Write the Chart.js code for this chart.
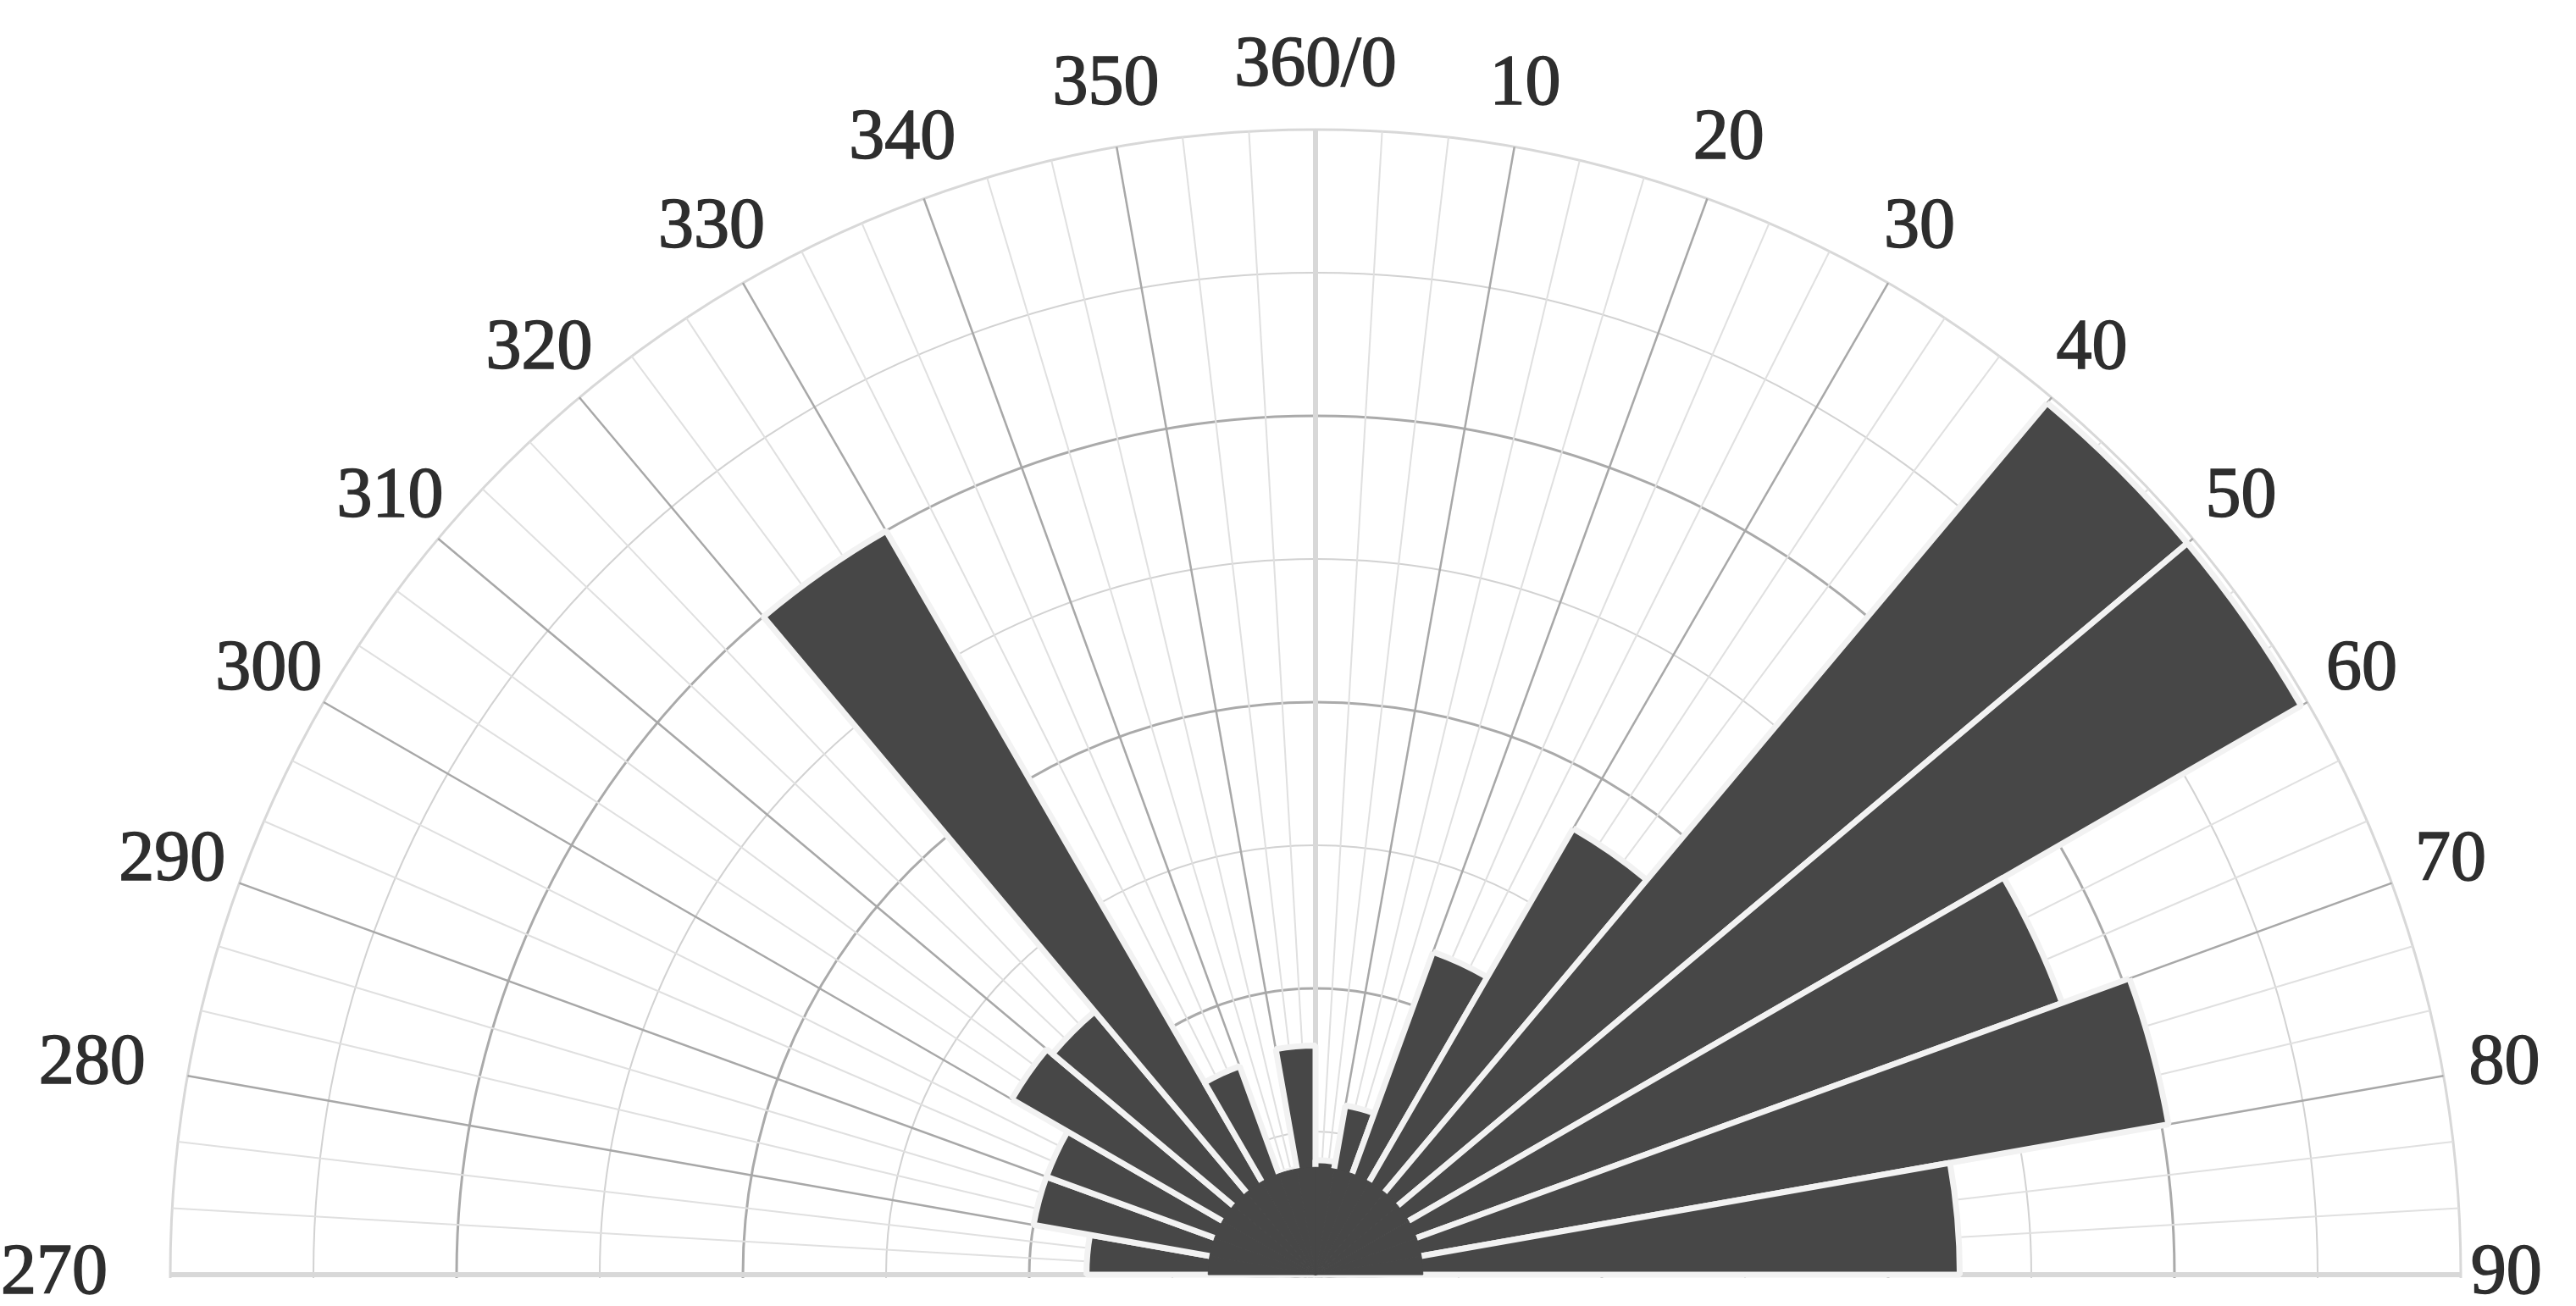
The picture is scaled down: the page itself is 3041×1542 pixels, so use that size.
<!DOCTYPE html>
<html lang="en">
<head>
    <meta charset="UTF-8">
    <title>Rose diagram 270-90</title>
    <script src="https://cdn.jsdelivr.net/npm/chart.js"></script>
    <style>
        html, body { margin: 0; padding: 0; background: #fff; }
        #frame { width: 3041px; height: 1542px; overflow: hidden; position: relative; }
        #holder { width: 3041px; height: 3010px; position: absolute; left: 0; top: 0; }
    </style>
</head>
<body>
<div id="frame"><div id="holder"><canvas id="roseChart"></canvas></div></div>

<script>
    // direction labels, clockwise from west (270)
    const directionLabels = ['270', '280', '290', '300', '310', '320', '330', '340', '350', '360/0',
        '10', '20', '30', '40', '50', '60', '70', '80', '90', '100', '110', '120', '130', '140',
        '150', '160', '170', '180', '190', '200', '210', '220', '230', '240', '250', '260'];

    // bar lengths of the 10 degree bins 270-280 ... 80-90
    const binCounts = [3.2, 4.0, 4.0, 4.9, 4.8, 12.0, 3.1, 1.5, 3.2,
        1.6, 2.4, 4.8, 7.2, 15.9, 15.9, 11.1, 12.1, 9.0];

    const ringStep = 2;
    const ringMax = 16;

    // three grid spokes per 10 degrees, only the first one carries a label
    const spokeLabels = [];
    directionLabels.forEach(l => spokeLabels.push(l, '', ''));

    // solid hub under the bars (smallest bin)
    const hub = binCounts.map(() => Math.min(...binCounts));

    // upper half only, then the direction labels centred on their spokes
    const halfRose = {
        id: 'halfRose',
        beforeDraw(chart) {
            const r = chart.scales.r;
            const ctx = chart.ctx;
            ctx.save();
            ctx.beginPath();
            ctx.rect(0, 0, chart.width, r.yCenter + 4);
            ctx.clip();
        },
        afterDraw(chart) {
            const r = chart.scales.r;
            const ctx = chart.ctx;
            ctx.restore();
            ctx.save();
            ctx.font = "84px 'Liberation Serif', serif";
            ctx.fillStyle = '#2e2e2e';
            ctx.strokeStyle = '#2e2e2e';
            ctx.lineWidth = 1.6;
            ctx.textAlign = 'center';
            ctx.textBaseline = 'middle';
            directionLabels.forEach((text, k) => {
                const i = k * 3;
                const p = r.getPointPosition(i, r.drawingArea + 74);
                const s = Math.sin(r.getIndexAngle(i));
                const w = ctx.measureText(text).width;
                const dx = s < 0 ? -0.5 * w * Math.pow(-s, 30) : -0.24 * w * Math.pow(s, 200);
                ctx.fillText(text, p.x + dx, p.y);
                ctx.strokeText(text, p.x + dx, p.y);
            });
            ctx.restore();
        }
    };

    new Chart(document.getElementById('roseChart'), {
        type: 'polarArea',
        data: {
            labels: spokeLabels,
            datasets: [
                {
                    label: 'hub',
                    data: hub,
                    angle: 10,
                    order: 0,
                    backgroundColor: '#474747',
                    borderColor: '#474747',
                    borderWidth: 1
                },
                {
                    label: 'bins',
                    data: binCounts,
                    angle: 10,
                    order: 1,
                    backgroundColor: '#474747',
                    borderColor: '#f2f2f2',
                    borderWidth: 7
                }
            ]
        },
        options: {
            responsive: true,
            maintainAspectRatio: false,
            animation: false,
            layout: { padding: { left: 201, right: 136, top: 0, bottom: 0 } },
            plugins: {
                legend: { display: false },
                tooltip: { enabled: false }
            },
            scales: {
                r: {
                    min: 0,
                    max: ringMax,
                    startAngle: -90,
                    ticks: { display: false, stepSize: ringStep },
                    grid: {
                        circular: true,
                        color: ctx => {
                            const v = ctx.tick.value;
                            if (v === ringMax) return '#d8d8d8';
                            return v % (2 * ringStep) === 0 ? '#aaaaaa' : '#d2d2d2';
                        },
                        lineWidth: ctx => ctx.tick.value % (2 * ringStep) === 0 ? 3 : 2
                    },
                    angleLines: {
                        display: true,
                        color: ctx => {
                            if (ctx.index % 27 === 0) return '#d8d8d8';
                            return ctx.index % 3 === 0 ? '#a8a8a8' : '#e0e0e0';
                        },
                        lineWidth: ctx => ctx.index % 27 === 0 ? 6 : (ctx.index % 3 === 0 ? 2.5 : 2)
                    },
                    pointLabels: { display: false }
                }
            }
        },
        plugins: [halfRose]
    });
</script>
</body>
</html>
